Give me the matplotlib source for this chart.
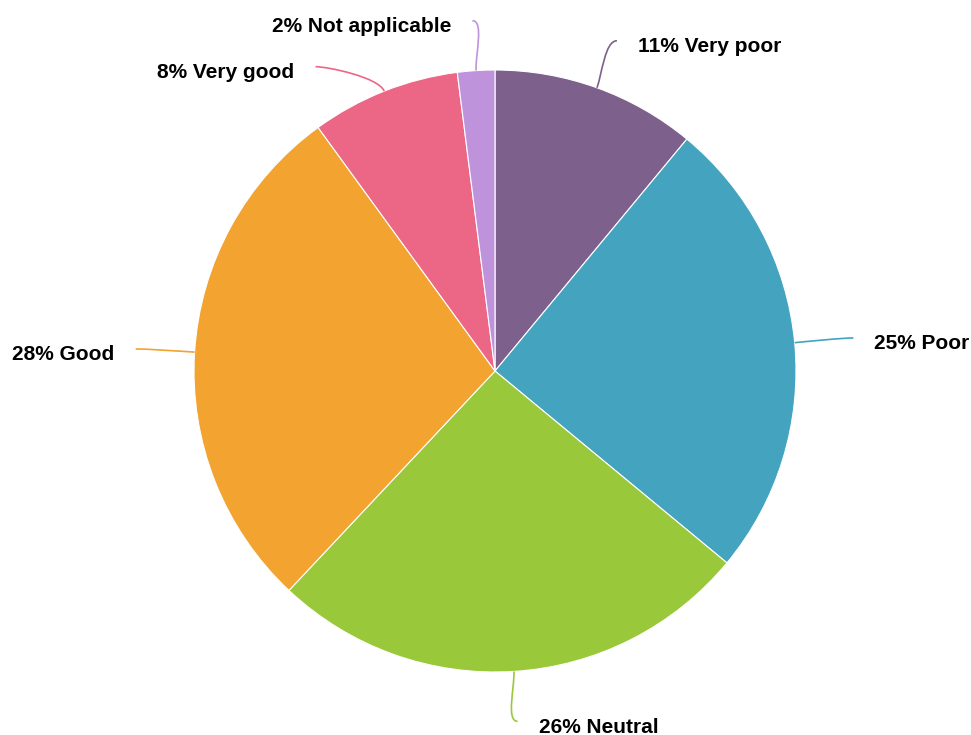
import numpy as np
import matplotlib
matplotlib.use("Agg")
import matplotlib.pyplot as plt
from matplotlib.path import Path
from matplotlib.patches import PathPatch

categories = ["Very poor", "Poor", "Neutral", "Good", "Very good", "Not applicable"]
shares = [11, 25, 26, 28, 8, 2]
colors = ["#7d608c", "#44a3bf", "#99c83b", "#f2a330", "#ec6685", "#bf93dc"]

W, H = 971, 735
fig = plt.figure(figsize=(W / 100, H / 100), dpi=100)
ax = fig.add_axes([0, 0, 1, 1])
ax.set_xlim(0, W)
ax.set_ylim(0, H)
ax.set_aspect("equal")
ax.axis("off")

cx, cy, r = 495, 364, 301
wedges, _ = ax.pie(shares, colors=colors, startangle=90, counterclock=False,
                   center=(cx, cy), radius=r,
                   wedgeprops=dict(edgecolor="white", linewidth=0.8))
ax.set_xlim(0, W)
ax.set_ylim(0, H)

# label layout: anchors on an outer oval, pushed apart vertically per side
Rx, Ry = 360, 351
gap = 46
items = []
for w, cat, val, col in zip(wedges, categories, shares, colors):
    mid = np.deg2rad((w.theta1 + w.theta2) / 2)
    ex, ey = cx + r * np.cos(mid), cy + r * np.sin(mid)
    side = 1 if np.cos(mid) >= 0 else -1
    items.append(dict(mid=mid, ex=ex, ey=ey, side=side, cat=cat, val=val,
                      col=col, ay=cy + Ry * np.sin(mid)))

for side in (1, -1):
    group = sorted([it for it in items if it["side"] == side], key=lambda d: -d["ay"])
    prev = None
    for it in group:
        if prev is not None and prev - it["ay"] < gap:
            it["ay"] = prev - gap
        prev = it["ay"]

for it in items:
    dy = (it["ay"] - cy) / Ry
    ax_ = cx + it["side"] * Rx * np.sqrt(max(1 - dy ** 2, 0))
    ay = it["ay"]
    ex, ey = it["ex"], it["ey"]
    p1 = (ex + 15 * np.cos(it["mid"]), ey + 15 * np.sin(it["mid"]))
    p2 = (ax_ - it["side"] * 12, ay)
    path = Path([(ex, ey), p1, p2, (ax_, ay)],
                [Path.MOVETO, Path.CURVE4, Path.CURVE4, Path.CURVE4])
    ax.add_patch(PathPatch(path, facecolor="none", edgecolor=it["col"], linewidth=1.2))
    ax.text(ax_ + it["side"] * 21, ay - 6, f"{it['val']}% {it['cat']}",
            ha="left" if it["side"] > 0 else "right", va="center",
            fontsize=15, fontweight="bold", family="Liberation Sans", color="black")

fig.savefig("out.png", dpi=100, facecolor="white")
